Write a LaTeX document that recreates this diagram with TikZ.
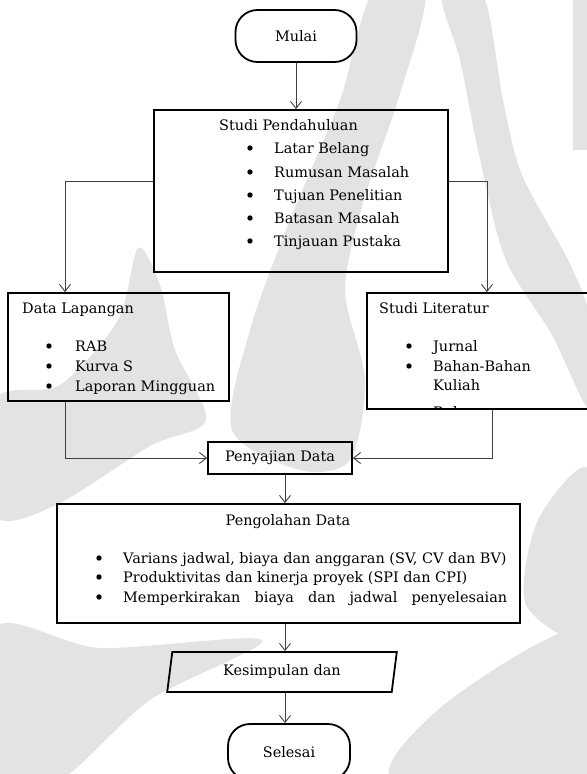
\documentclass[tikz,border=0pt]{standalone}
\usepackage{fontspec}
\setmainfont{DejaVu Serif}
\usetikzlibrary{arrows.meta,shapes.geometric,calc}
\begin{document}
\begin{tikzpicture}[x=1bp,y=-1bp,
  font=\fontsize{14.5}{17}\selectfont,
  box/.style={draw, line width=1.8bp, inner sep=0pt},
  term/.style={box, rounded corners=22bp, minimum width=121bp, minimum height=52bp},
  txt/.style={anchor=west, inner sep=0pt, text height=10bp, text depth=3bp},
  bul/.style={circle, fill=black, inner sep=0pt, minimum size=5.4bp},
  conn/.style={draw=black!75, line width=0.9bp, -{Straight Barb[length=7bp,width=11bp]}},
  wm/.style={fill=black!11, draw=none}
]
\useasboundingbox (0,0) rectangle (587,774);

% faint watermark in the background
\fill[wm] plot[smooth cycle, tension=0.5] coordinates {(372,-5) (425,-5) (398,100) (364,200) (345,290) (365,380) (350,460) (300,470) (232,430) (250,330) (290,220) (340,100)};
\fill[wm] plot[smooth cycle, tension=0.5] coordinates {(442,-5) (483,-5) (503,100) (522,175) (569,262) (590,320) (590,410) (552,335) (505,258) (478,150) (460,60)};
\fill[wm] (573,-5) rectangle (590,150);
\fill[wm] plot[smooth cycle, tension=0.5] coordinates {(138,248) (160,285) (175,350) (206,420) (150,446) (56,505) (-5,515) (-5,400) (60,385) (118,320)};
\fill[wm] plot[smooth cycle, tension=0.5] coordinates {(590,470) (590,635) (526,605) (538,520)};
\fill[wm] plot[smooth cycle, tension=0.5] coordinates {(-5,628) (100,648) (262,640) (150,700) (60,780) (-5,780)};
\fill[wm] plot[smooth cycle, tension=0.5] coordinates {(393,780) (450,700) (590,628) (590,780)};

% boxes
\node[term] (mulai) at (296,36) {Mulai};
\node[box, minimum width=294bp, minimum height=162bp] (sp) at (301,191) {};
\node[box, minimum width=221bp, minimum height=108bp] (dl) at (118.5,347) {};
\node[box, minimum width=233bp, minimum height=116bp] (sl) at (483.5,351) {};
\node[box, minimum width=144bp, minimum height=32bp] (peny) at (280,458) {Penyajian Data};
\node[box, minimum width=463bp, minimum height=119bp] (pengol) at (288.5,563.5) {};
\node[box, shape=trapezium, trapezium stretches=true, trapezium left angle=79, trapezium right angle=101,
      minimum width=230bp, minimum height=40bp] (kes) at (282,672) {Kesimpulan dan};
\node[term, minimum width=122bp, minimum height=56bp] (sel) at (289,752) {Selesai};

% Studi Pendahuluan
\node[txt] (spt) at (219,127) {Studi Pendahuluan};
\node[bul] (spb1) at (250,148) {};
\node[bul] (spb2) at (250,172) {};
\node[bul] (spb3) at (250,195) {};
\node[bul] (spb4) at (250,218) {};
\node[bul] (spb5) at (250,241) {};
\node[txt] (sp1) at (274,150) {Latar Belang};
\node[txt] (sp2) at (274,174) {Rumusan Masalah};
\node[txt] (sp3) at (274,197) {Tujuan Penelitian};
\node[txt] (sp4) at (274,220) {Batasan Masalah};
\node[txt] (sp5) at (274,243) {Tinjauan Pustaka};

% Data Lapangan
\node[txt] (dlt) at (22,310) {Data Lapangan};
\node[bul] (dlb1) at (49,346) {};
\node[bul] (dlb2) at (49,366) {};
\node[bul] (dlb3) at (49,386) {};
\node[txt] (dl1) at (75,348) {RAB};
\node[txt] (dl2) at (75,368) {Kurva S};
\node[txt] (dl3) at (75,388) {Laporan Mingguan};

% Studi Literatur
\node[txt] (slt) at (379,310) {Studi Literatur};
\node[bul] (slb1) at (409,346) {};
\node[bul] (slb2) at (409,366) {};
\node[txt] (sl1) at (433,348) {Jurnal};
\node[txt] (sl2) at (433,368) {Bahan-Bahan};
\node[txt] (sl3) at (433,387) {Kuliah};
\begin{scope}
  \clip (368,294) rectangle (587,408);
  \node[txt] (sl4) at (433,414) {Buku};
\end{scope}

% Pengolahan Data
\node[anchor=center, inner sep=0pt, text height=10bp, text depth=3bp] (pgt) at (288,522) {Pengolahan Data};
\node[bul] (pgb1) at (99,558) {};
\node[bul] (pgb2) at (99,577) {};
\node[bul] (pgb3) at (99,597) {};
\node[txt] (pg1) at (123,560) {Varians jadwal, biaya dan anggaran (SV, CV dan BV)};
\node[txt] (pg2) at (123,579) {Produktivitas dan kinerja proyek (SPI dan CPI)};
\node[txt] (pg3) at (123,599) {\makebox[384bp][s]{Memperkirakan biaya dan jadwal penyelesaian}};

% connectors
\coordinate (c1) at (65,181);
\coordinate (c2) at (487,181);
\coordinate (c3) at (65,458);
\coordinate (c4) at (492,458);
\coordinate (c5) at (285,0);
\draw[conn] (mulai.south) -- (sp.north -| mulai.south);
\draw[conn] (sp.west |- c1) -- (c1) -- (c1 |- dl.north);
\draw[conn] (sp.east |- c2) -- (c2) -- (c2 |- sl.north);
\draw[conn] (c3 |- dl.south) -- (c3) -- (peny.west);
\draw[conn] (c4 |- sl.south) -- (c4) -- (peny.east);
\draw[conn] (peny.south -| c5) -- (pengol.north -| c5);
\draw[conn] (pengol.south -| c5) -- (kes.north -| c5);
\draw[conn] (kes.south -| c5) -- (sel.north -| c5);
\end{tikzpicture}
\end{document}
